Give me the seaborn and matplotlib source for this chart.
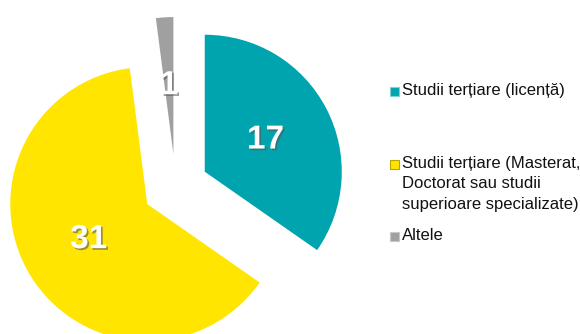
import matplotlib
matplotlib.use("Agg")
import matplotlib.pyplot as plt
import matplotlib.patheffects as pe
from matplotlib.patches import Rectangle
import seaborn as sns

# Education level counts
categories = [
    "Studii terțiare (licență)",
    "Studii terțiare (Masterat,\nDoctorat sau studii\nsuperioare specializate)",
    "Altele",
]
values = [17, 31, 1]
colors = ["#00A4AE", "#FFE500", "#A0A0A0"]
edge_colors = ["#7fcfd4", "#b8a400", "#c8c8c8"]

sns.set_theme(style="white")
plt.rcParams["font.family"] = ["Liberation Sans", "DejaVu Sans"]

W, H = 580, 334
fig = plt.figure(figsize=(W / 100, H / 100), dpi=100)
ax = fig.add_axes([0, 0, 1, 1])

total = sum(values)
wedges, texts, autotexts = ax.pie(
    values,
    colors=colors,
    startangle=90,
    counterclock=False,
    center=(175.5, 147),
    radius=137,
    explode=[33, 33, 33],
    autopct=lambda p: f"{p * total / 100:.0f}",
    pctdistance=0.5,
    wedgeprops=dict(linewidth=0),
    textprops=dict(color="white", fontsize=24, fontweight="bold"),
)
for t in autotexts:
    t.set_path_effects([
        pe.withSimplePatchShadow(offset=(1.2, -1.2), shadow_rgbFace="#555555", alpha=0.6)
    ])

ax.set_xlim(0, W)
ax.set_ylim(0, H)
ax.set_aspect("equal")
ax.axis("off")

# Legend drawn as swatches and text
legend_y = [91, 164, 236]  # y of first line, from the top
for label, col, ec, y in zip(categories, colors, edge_colors, legend_y):
    ax.add_patch(Rectangle((390, H - y - 4.5), 9, 9, facecolor=col,
                           edgecolor=ec, linewidth=0.8))
    ax.text(402, H - y + 8, label, fontsize=12, color="#111111",
            va="top", ha="left", linespacing=1.45)

fig.savefig("out.png", dpi=100)
